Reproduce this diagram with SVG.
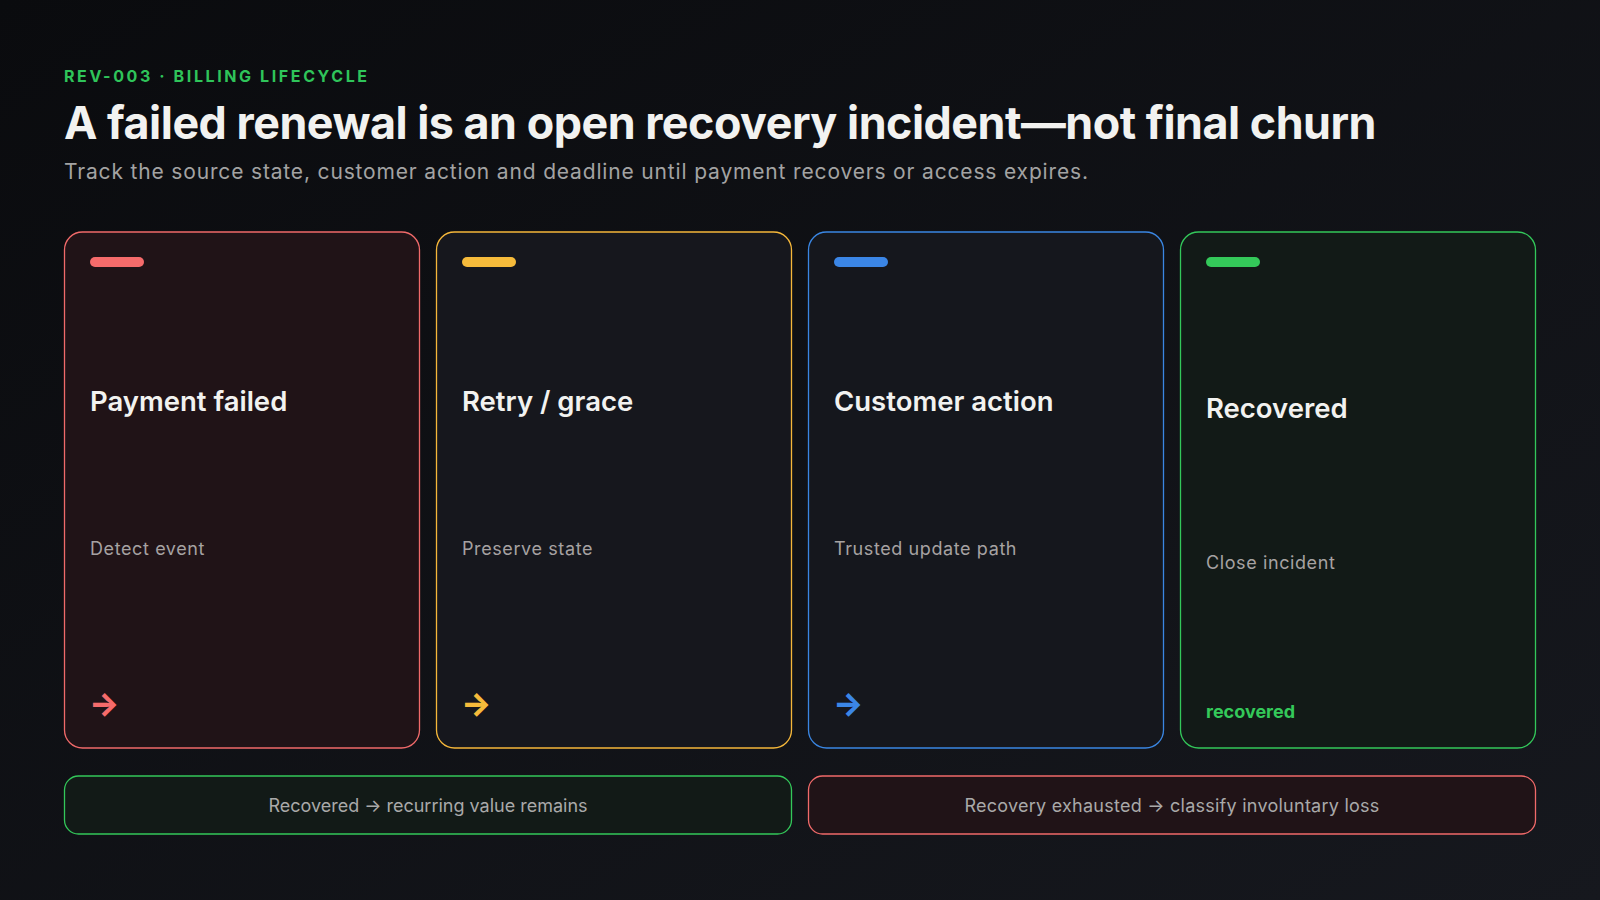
<svg xmlns="http://www.w3.org/2000/svg" width="1600" height="900" viewBox="0 0 1600 900">
  <defs>
    <linearGradient id="bg" x1="0" y1="0" x2="1" y2="1">
      <stop offset="0" stop-color="#0a0b0e"/>
      <stop offset="1" stop-color="#16181e"/>
    </linearGradient>
  </defs>
  <style>
    .eyebrow { font-family: Inter, "Liberation Sans", sans-serif; font-weight: 700; font-size: 16px; fill: #2fc45a; letter-spacing: 3px; }
    .title { font-family: Inter, "Liberation Sans", sans-serif; font-weight: 700; font-size: 45px; fill: #f2f2f0; letter-spacing: -0.5px; }
    .subtitle { font-family: Inter, "Liberation Sans", sans-serif; font-size: 21px; fill: #a3a3a3; }
    .card { stroke-width: 1.3; }
    .ctitle { font-family: Inter, "Liberation Sans", sans-serif; font-weight: 600; font-size: 27.5px; fill: #f2f2f0; }
    .csub { font-family: Inter, "Liberation Sans", sans-serif; font-size: 18px; fill: #a6a2a2; letter-spacing: 0.6px; }
    .arrow { font-family: Inter, "DejaVu Sans", sans-serif; font-weight: 800; font-size: 32px; }
    .foot { font-family: Inter, "Liberation Sans", sans-serif; font-size: 18px; fill: #a9a9a9; text-anchor: middle; }
    .red { fill: #201317; stroke: #f06a6a; }
    .amber { fill: #16171d; stroke: #f5b73a; }
    .blue { fill: #15171d; stroke: #3a86e2; }
    .green { fill: #121a17; stroke: #33c75a; }
  </style>
  <rect x="0" y="0" width="1600" height="900" fill="url(#bg)"/>

  <g id="header">
    <text class="eyebrow" x="64" y="82" textLength="306">REV-003 · BILLING LIFECYCLE</text>
    <text class="title" x="64" y="139" textLength="1312" lengthAdjust="spacingAndGlyphs">A failed renewal is an open recovery incident—not final churn</text>
    <text class="subtitle" x="64" y="179" textLength="1024">Track the source state, customer action and deadline until payment recovers or access expires.</text>
  </g>

  <g id="card-payment-failed">
    <rect class="card red" x="64.5" y="232" width="355" height="516" rx="18"/>
    <rect x="90" y="257" width="54" height="10" rx="5" fill="#f56b6b"/>
    <text class="ctitle" x="90" y="411">Payment failed</text>
    <text class="csub" x="90" y="555">Detect event</text>
    <text class="arrow" x="89" y="715" fill="#f56b6b">→</text>
  </g>

  <g id="card-retry-grace">
    <rect class="card amber" x="436.5" y="232" width="355" height="516" rx="18"/>
    <rect x="462" y="257" width="54" height="10" rx="5" fill="#f6bb3b"/>
    <text class="ctitle" x="462" y="411">Retry / grace</text>
    <text class="csub" x="462" y="555">Preserve state</text>
    <text class="arrow" x="461" y="715" fill="#f6bb3b">→</text>
  </g>

  <g id="card-customer-action">
    <rect class="card blue" x="808.5" y="232" width="355" height="516" rx="18"/>
    <rect x="834" y="257" width="54" height="10" rx="5" fill="#3b86e6"/>
    <text class="ctitle" x="834" y="411">Customer action</text>
    <text class="csub" x="834" y="555">Trusted update path</text>
    <text class="arrow" x="833" y="715" fill="#3b86e6">→</text>
  </g>

  <g id="card-recovered">
    <rect class="card green" x="1180.5" y="232" width="355" height="516" rx="18"/>
    <rect x="1206" y="257" width="54" height="10" rx="5" fill="#34c95a"/>
    <text class="ctitle" x="1206" y="418">Recovered</text>
    <text class="csub" x="1206" y="569">Close incident</text>
    <text x="1206" y="718" font-family="Inter, 'Liberation Sans', sans-serif" font-weight="700" font-size="18" fill="#34c95a">recovered</text>
  </g>

  <g id="connectors"/>

  <g id="outcome-recovered">
    <rect class="green" x="64.5" y="776" width="727" height="58" rx="14" stroke-width="1.3"/>
    <text class="foot" x="428" y="812">Recovered → recurring value remains</text>
  </g>

  <g id="outcome-exhausted">
    <rect class="red" x="808.5" y="776" width="727" height="58" rx="14" stroke-width="1.3"/>
    <text class="foot" x="1172" y="812" letter-spacing="0.25">Recovery exhausted → classify involuntary loss</text>
  </g>
</svg>
